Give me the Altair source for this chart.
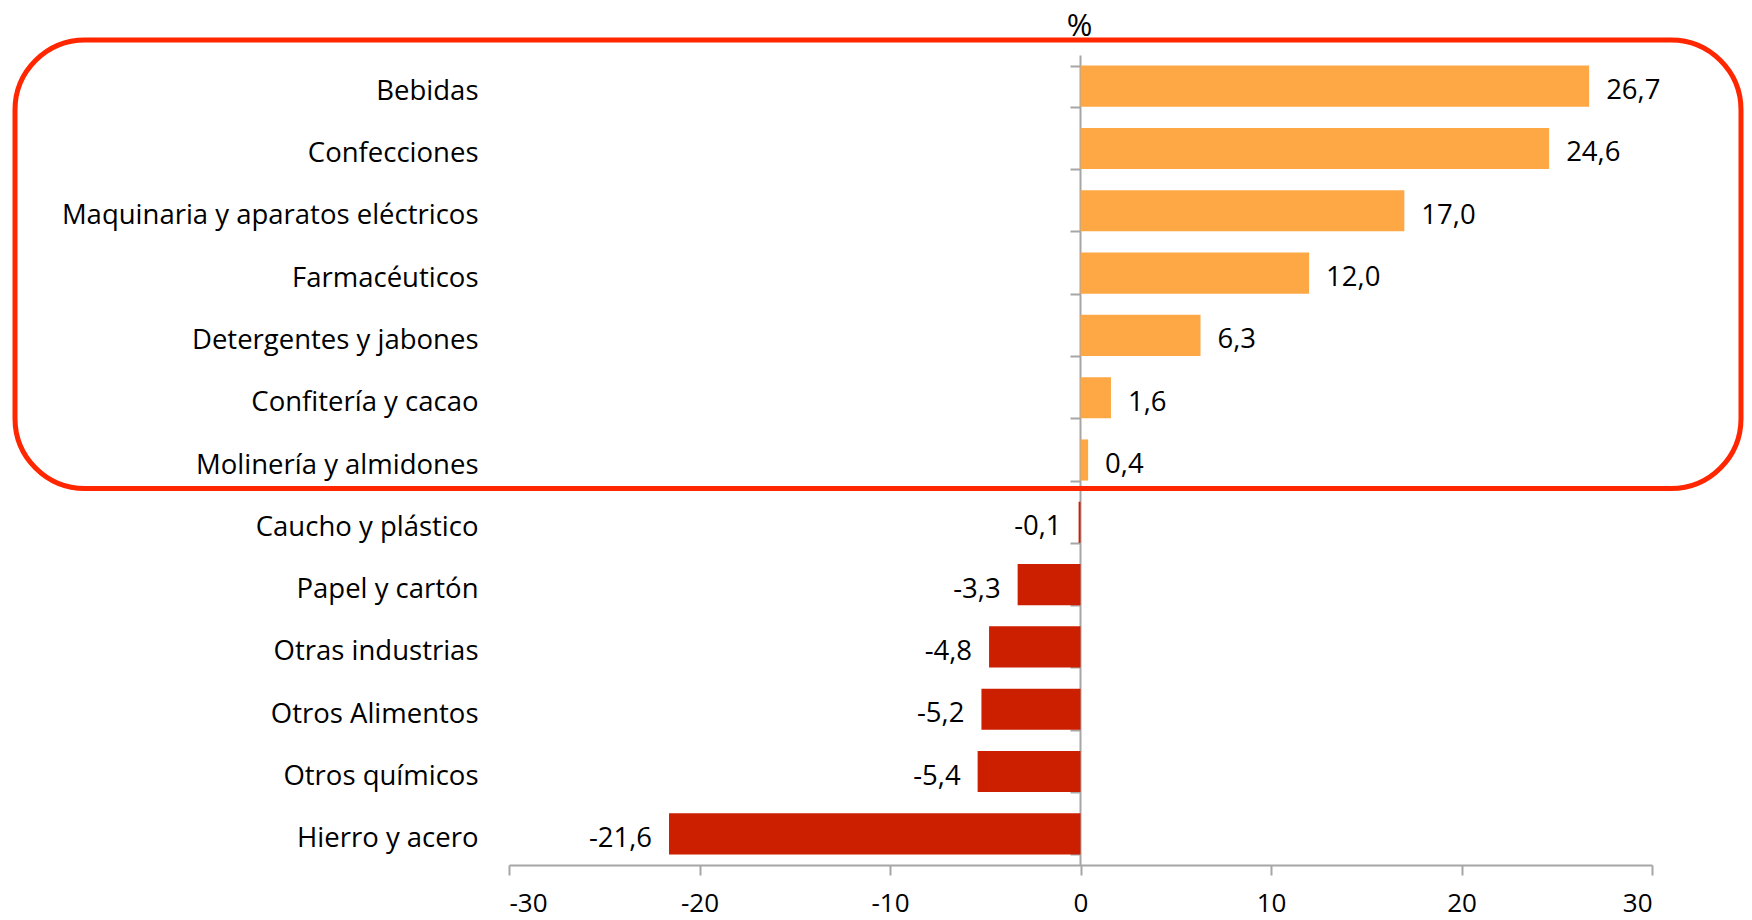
import altair as alt
import pandas as pd
import numpy as np

categories = ["Bebidas", "Confecciones", "Maquinaria y aparatos eléctricos",
              "Farmacéuticos", "Detergentes y jabones", "Confitería y cacao",
              "Molinería y almidones", "Caucho y plástico", "Papel y cartón",
              "Otras industrias", "Otros Alimentos", "Otros químicos", "Hierro y acero"]
values = [26.7, 24.6, 17.0, 12.0, 6.3, 1.6, 0.4, -0.1, -3.3, -4.8, -5.2, -5.4, -21.6]
x_ticks = [-30, -20, -10, 0, 10, 20, 30]

FONT = "Open Sans"
ORANGE = "#FDA845"
RED = "#CC1F00"
BORDER = "#FF2600"
GREY = "#A6A6A6"

df = pd.DataFrame({"cat": categories, "val": values})
df["label"] = df["val"].map(lambda v: f"{v:.1f}".replace(".", ","))
df["sign"] = np.where(df["val"] >= 0, "pos", "neg")

y_enc = alt.Y(
    "cat:N", sort=categories,
    scale=alt.Scale(paddingInner=0.34, paddingOuter=0.17),
    axis=alt.Axis(
        orient="left", offset=-571,
        title="%", titleAngle=0, titleX=-1, titleY=-29, titleAlign="center",
        titleBaseline="middle", titleFontSize=31, titleFont=FONT,
        titleFontWeight="normal", titleColor="black",
        labelFont=FONT, labelFontSize=27.5, labelColor="black",
        labelPadding=592, labelAlign="right", labelLimit=800, labelOffset=5,
        tickSize=10, tickColor=GREY, tickWidth=2, tickBand="extent",
        domainColor=GREY, domainWidth=2,
    ),
)
x_enc = alt.X(
    "val:Q",
    scale=alt.Scale(domain=[-30, 30], nice=False, zero=False),
    axis=alt.Axis(
        values=x_ticks, grid=False, title=None,
        labelExpr="'' + datum.value",
        labelFont=FONT, labelFontSize=26, labelColor="black", labelPadding=15,
        tickSize=10, tickColor=GREY, tickWidth=2,
        domainColor=GREY, domainWidth=2,
    ),
)

base = alt.Chart(df).encode(y=y_enc, x=x_enc)

bars = base.mark_bar().encode(
    color=alt.Color("sign:N", scale=alt.Scale(domain=["pos", "neg"], range=[ORANGE, RED]), legend=None)
)
pos_text = base.transform_filter("datum.val >= 0").mark_text(
    align="left", baseline="middle", dx=17, dy=5, font=FONT, fontSize=27.5, color="black"
).encode(text="label:N")
neg_text = base.transform_filter("datum.val < 0").mark_text(
    align="right", baseline="middle", dx=-17, dy=5, font=FONT, fontSize=27.5, color="black"
).encode(text="label:N")

box = alt.Chart(pd.DataFrame({"k": [0]})).mark_rect(
    fill="transparent", stroke=BORDER, strokeWidth=5, cornerRadius=70
).encode(x=alt.value(-494), x2=alt.value(1232), y=alt.value(-15), y2=alt.value(433.5))

chart = alt.layer(bars, pos_text, neg_text, box).properties(
    width=1143, height=810,
    autosize=alt.AutoSizeParams(type="none"),
    padding={"left": 501, "top": 47, "right": 92, "bottom": 55},
).configure_view(stroke=None)

chart.save("out.html", embed_options={"renderer": "svg", "actions": False})
